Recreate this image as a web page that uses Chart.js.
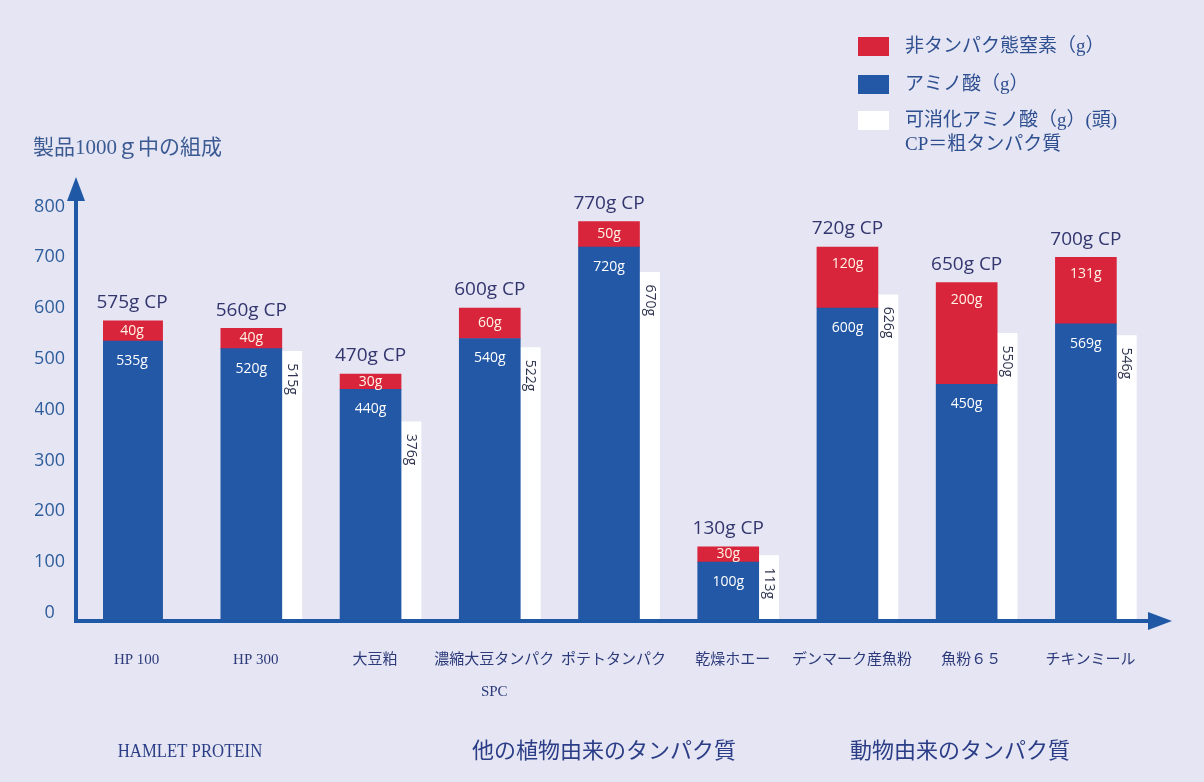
<!DOCTYPE html>
<html>
<head>
<meta charset="utf-8">
<script src="https://cdn.jsdelivr.net/npm/chart.js@4/dist/chart.umd.min.js"></script>
<style>
  html, body { margin: 0; padding: 0; background: #e5e5f3; }
  #wrap { width: 1204px; height: 782px; }
</style>
</head>
<body>
<div id="wrap"><canvas id="c" width="1204" height="782"></canvas></div>
<script>
// ---- data ----
const categories = ['HP 100', 'HP 300', '大豆粕', ['濃縮大豆タンパク', 'SPC'], 'ポテトタンパク', '乾燥ホエー', 'デンマーク産魚粉', '魚粉６５', 'チキンミール'];
const aminoAcid = [535, 520, 440, 540, 720, 100, 600, 450, 569];
const nonProteinN = [40, 40, 30, 60, 50, 30, 120, 200, 131];
const digestibleAA = [null, 515, 376, 522, 670, 113, 626, 550, 546];
const crudeProtein = [575, 560, 470, 600, 770, 130, 720, 650, 700];
const yTicks = [0, 100, 200, 300, 400, 500, 600, 700, 800];
const seriesNames = ['非タンパク態窒素（g）', 'アミノ酸（g）', '可消化アミノ酸（g）(頭)'];
const legendNote = 'CP＝粗タンパク質';
const yTitle = '製品1000ｇ中の組成';
const groupNames = ['HAMLET PROTEIN', '他の植物由来のタンパク質', '動物由来のタンパク質'];

// ---- style ----
const BG = '#e5e5f3';
const BLUE = '#2358a6';
const RED = '#d8253b';
const WHITE = '#ffffff';
const AXIS = '#1f59a6';
const NAVY = '#2c3a7a';
const Y_MIN = -16, Y_MAX = 850;
const SANS = '"Open Sans", "Noto Sans", "Noto Sans CJK JP", sans-serif';
const SERIF = '"Liberation Serif", "DejaVu Serif", "Noto Sans CJK JP", serif';

const decorPlugin = {
  id: 'decor',
  beforeDraw(chart) {
    const ctx = chart.ctx;
    ctx.save();
    ctx.fillStyle = BG;
    ctx.fillRect(0, 0, chart.width, chart.height);
    ctx.restore();
  },
  afterDatasetsDraw(chart) {
    const ctx = chart.ctx;
    const area = chart.chartArea;
    ctx.save();
    // axes with arrows
    const ax = area.left - 27;
    const ay = area.bottom;
    ctx.strokeStyle = AXIS;
    ctx.fillStyle = AXIS;
    ctx.lineWidth = 4;
    ctx.beginPath();
    ctx.moveTo(ax, ay + 2);
    ctx.lineTo(ax, area.top + 18);
    ctx.stroke();
    ctx.beginPath();
    ctx.moveTo(ax - 9, area.top + 20);
    ctx.lineTo(ax, area.top - 4);
    ctx.lineTo(ax + 9, area.top + 20);
    ctx.closePath();
    ctx.fill();
    ctx.beginPath();
    ctx.moveTo(ax - 2, ay);
    ctx.lineTo(area.right - 26, ay);
    ctx.stroke();
    ctx.beginPath();
    ctx.moveTo(area.right - 28, ay - 9);
    ctx.lineTo(area.right - 4, ay);
    ctx.lineTo(area.right - 28, ay + 9);
    ctx.closePath();
    ctx.fill();

    // bar labels
    const mBlue = chart.getDatasetMeta(0);
    const mRed = chart.getDatasetMeta(1);
    const mWhite = chart.getDatasetMeta(2);
    ctx.textAlign = 'center';
    ctx.textBaseline = 'middle';
    mBlue.data.forEach((bar, i) => {
      const red = mRed.data[i];
      ctx.fillStyle = '#33366e';
      ctx.font = '19px ' + SANS;
      ctx.fillText(crudeProtein[i] + 'g CP', bar.x, red.y - 18);
      ctx.fillStyle = '#fff4e6';
      ctx.font = '14px ' + SANS;
      const rh = red.base - red.y;
      ctx.fillText(nonProteinN[i] + 'g', red.x, red.y + Math.min(rh / 2, 17));
      ctx.fillStyle = '#ffffff';
      ctx.fillText(aminoAcid[i] + 'g', bar.x, bar.y + 20);
      const w = mWhite.data[i];
      if (digestibleAA[i] !== null && w) {
        ctx.save();
        ctx.translate(w.x, w.y + 12);
        ctx.rotate(Math.PI / 2);
        ctx.textAlign = 'left';
        ctx.fillStyle = '#2f3550';
        ctx.font = '14px ' + SANS;
        ctx.fillText(digestibleAA[i] + 'g', 0, 0);
        ctx.restore();
      }
    });

    // y title
    ctx.textAlign = 'left';
    ctx.textBaseline = 'middle';
    ctx.fillStyle = '#3b5a92';
    ctx.font = '21px ' + SERIF;
    ctx.fillText(yTitle, 33, 148);

    // legend
    const lx = 858, rows = [47, 85, 121];
    const cols = [RED, BLUE, WHITE];
    ctx.font = '19px ' + SERIF;
    rows.forEach((ry, k) => {
      ctx.fillStyle = cols[k];
      ctx.fillRect(lx, ry - 10, 31, 19);
      ctx.fillStyle = '#2e4f90';
      ctx.fillText(seriesNames[k], lx + 47, ry);
    });
    ctx.fillText(legendNote, lx + 47, 145);

    // group labels
    ctx.textAlign = 'center';
    ctx.fillStyle = '#2a3d86';
    ctx.save();
    ctx.translate(190, 752);
    ctx.scale(0.88, 1);
    ctx.font = '19px ' + SERIF;
    ctx.fillText(groupNames[0], 0, 0);
    ctx.restore();
    ctx.font = '22px ' + SERIF;
    ctx.fillText(groupNames[1], 604, 752);
    ctx.fillText(groupNames[2], 960, 752);
    ctx.restore();
  }
};

new Chart(document.getElementById('c'), {
  type: 'bar',
  data: {
    labels: categories,
    datasets: [
      { label: seriesNames[1], data: aminoAcid, backgroundColor: BLUE, stack: 'a', barThickness: 61, base: Y_MIN + 2, order: 0 },
      { label: seriesNames[0], data: nonProteinN, backgroundColor: RED, stack: 'a', barThickness: 61, order: 1 },
      { label: seriesNames[2], data: digestibleAA, backgroundColor: WHITE, stack: 'b', barThickness: 20, base: Y_MIN + 2, order: 2 }
    ]
  },
  options: {
    responsive: false,
    animation: false,
    devicePixelRatio: 1,
    layout: { padding: { top: 181, bottom: 74.5, left: 35, right: 28 } },
    plugins: {
      legend: { display: false },
      tooltip: { enabled: false },
      title: { display: false }
    },
    scales: {
      x: {
        stacked: true,
        grid: { display: false, drawTicks: false },
        border: { display: false },
        afterFit(scale) { scale.height = 86.5; },
        ticks: {
          color: NAVY,
          font: { family: SERIF, size: 15, lineHeight: 2.07 },
          padding: 24,
          labelOffset: -26,
          maxRotation: 0,
          autoSkip: false
        }
      },
      y: {
        stacked: true,
        min: Y_MIN,
        max: Y_MAX,
        grid: { display: false, drawTicks: false },
        border: { display: false },
        afterFit(scale) { scale.width = 68; },
        afterBuildTicks(scale) {
          scale.ticks = yTicks.map(v => ({ value: v }));
        },
        ticks: {
          color: '#2e5d9c',
          font: { family: SANS, size: 18 },
          padding: 38,
          crossAlign: 'center'
        }
      }
    }
  },
  plugins: [decorPlugin]
});
</script>
</body>
</html>
